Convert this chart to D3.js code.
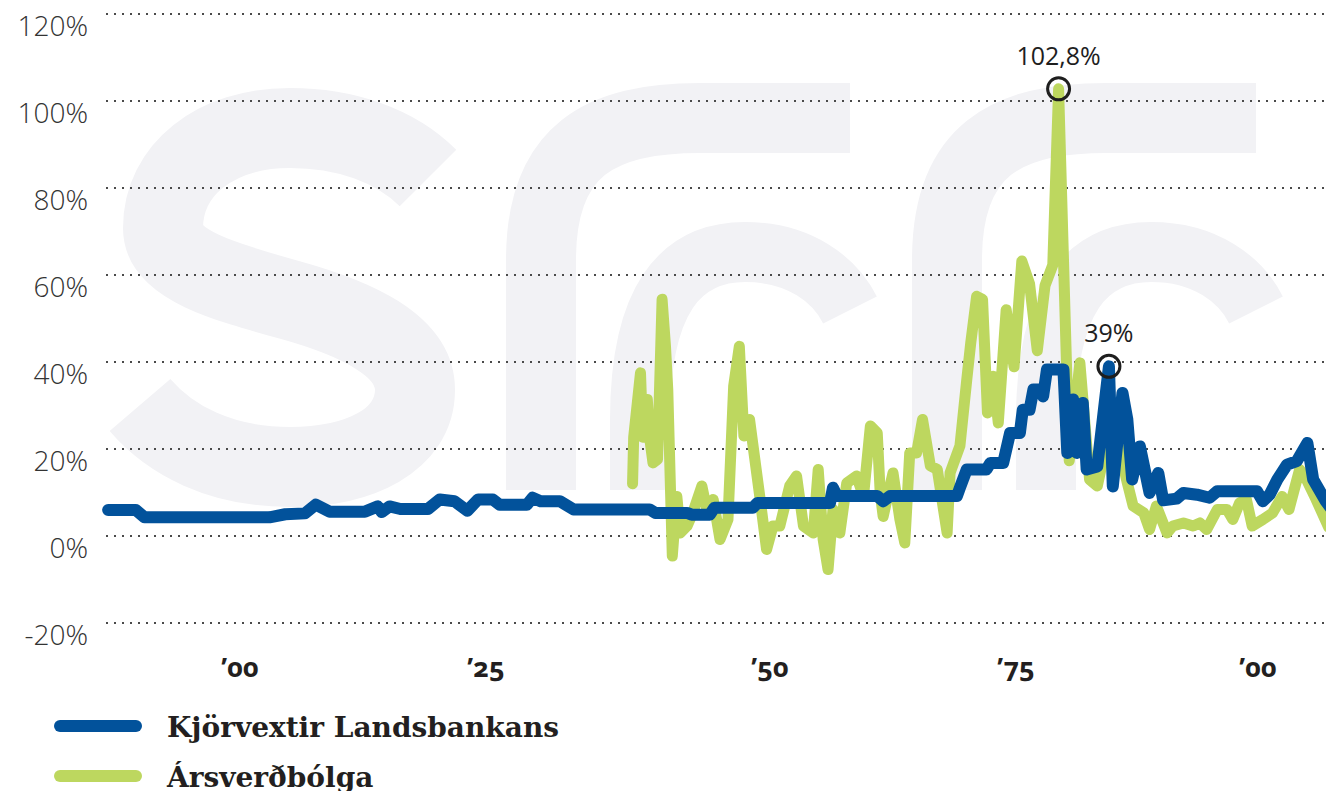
<!DOCTYPE html>
<html>
<head>
<meta charset="utf-8">
<script src="https://cdn.jsdelivr.net/npm/d3@7"></script>
<style>
  body { margin: 0; background: #fff; }
  svg { display: block; }
</style>
</head>
<body>
<div id="chart"></div>
<script>
// Kjörvextir Landsbankans (prime rate), %
const rateYears = [1886.6, 1889.4, 1890.3, 1903.0, 1904.6, 1906.6, 1907.7, 1909.1, 1912.7, 1914.0,
  1914.4, 1915.2, 1916.3, 1919.1, 1920.3, 1921.8, 1923.1, 1924.2, 1925.6, 1926.2,
  1928.6, 1929.1, 1929.8, 1931.5, 1932.7, 1939.4, 1939.9, 1942.7, 1943.1, 1944.7,
  1945.1, 1948.5, 1948.9, 1956.1, 1956.4, 1956.8, 1960.9, 1961.5, 1962.2, 1969.0,
  1969.3, 1970.0, 1972.0, 1972.4, 1973.7, 1974.4, 1975.4, 1975.7, 1976.4, 1976.8,
  1977.5, 1977.8, 1978.2, 1979.9, 1980.3, 1980.9, 1981.3, 1981.9, 1982.3, 1983.4,
  1984.6, 1985.0, 1986.0, 1986.5, 1987.0, 1987.8, 1988.8, 1989.7, 1990.2, 1991.6,
  1992.3, 1993.7, 1995.0, 1995.8, 1999.9, 2000.5, 2001.2, 2002.0, 2003.0, 2004.0,
  2005.1, 2005.7, 2007.0, 2007.5];
const rateValues = [6.0, 6.0, 4.3, 4.3, 5.0, 5.2, 7.2, 5.6, 5.6, 6.8,
  5.5, 6.8, 6.2, 6.2, 8.4, 8.0, 5.8, 8.4, 8.4, 7.2,
  7.2, 8.8, 8.0, 8.0, 6.1, 6.1, 5.3, 5.3, 4.9, 4.9,
  6.5, 6.5, 7.6, 7.6, 11.1, 9.2, 9.2, 8.0, 9.2, 9.2,
  11.1, 15.3, 15.3, 16.8, 16.8, 23.7, 23.7, 29.0, 29.0, 33.7,
  33.7, 32.1, 38.3, 38.3, 19.1, 31.4, 19.1, 30.6, 15.3, 16.0,
  39.0, 11.4, 32.9, 26.8, 13.0, 20.6, 9.9, 14.5, 8.2, 8.6,
  9.9, 9.5, 8.8, 10.3, 10.3, 8.0, 9.5, 13.0, 16.4, 17.2,
  21.4, 13.0, 8.0, 6.5];

// Ársverðbólga (annual inflation), %
const inflYears = [1937.9, 1938.0, 1938.6, 1938.8, 1939.2, 1939.4, 1939.7, 1940.1, 1940.5, 1940.8,
  1941.0, 1941.4, 1941.8, 1942.1, 1942.7, 1943.2, 1944.0, 1944.5, 1945.0, 1945.6,
  1946.3, 1946.8, 1947.3, 1947.7, 1948.2, 1949.1, 1949.7, 1950.3, 1951.0, 1952.0,
  1952.7, 1953.4, 1954.4, 1954.9, 1955.4, 1955.9, 1956.4, 1957.1, 1957.8, 1958.8,
  1959.5, 1960.2, 1960.9, 1961.2, 1961.5, 1962.5, 1963.2, 1963.7, 1964.2, 1964.9,
  1965.5, 1966.3, 1967.0, 1968.0, 1968.3, 1969.3, 1970.0, 1970.4, 1971.0, 1971.6,
  1972.1, 1972.7, 1973.2, 1974.0, 1974.8, 1975.6, 1976.4, 1977.2, 1978.0, 1978.8,
  1979.4, 1980.5, 1981.6, 1982.6, 1983.4, 1984.7, 1985.7, 1986.5, 1987.1, 1988.2,
  1988.8, 1989.5, 1990.6, 1991.2, 1992.3, 1993.3, 1994.0, 1994.7, 1995.8, 1996.8,
  1997.4, 1998.1, 1998.8, 1999.4, 2000.5, 2001.5, 2002.5, 2003.2, 2004.3, 2005.0,
  2006.0, 2007.3];
const inflValues = [12.0, 22.7, 37.5, 22.7, 31.4, 22.7, 16.8, 17.6, 54.4, 43.6,
  33.7, -4.6, 9.1, 0.7, 2.3, 5.3, 11.5, 5.3, 8.4, -0.8,
  3.8, 34.4, 43.6, 23.0, 26.8, 9.1, -3.1, 2.3, 2.3, 11.5,
  13.8, 2.3, 0.7, 15.3, -0.8, -7.7, 6.1, 0.7, 12.2, 13.8,
  9.1, 25.3, 23.7, 9.9, 4.5, 14.5, 3.8, -1.6, 19.1, 19.1,
  26.8, 16.1, 15.3, 0.7, 14.5, 20.7, 36.0, 44.4, 55.1, 54.4,
  28.3, 36.7, 26.0, 52.0, 38.9, 63.2, 58.0, 42.6, 57.6, 62.3,
  102.8, 17.3, 39.8, 13.0, 11.5, 25.0, 20.0, 12.2, 6.9, 5.3,
  1.5, 6.9, 0.7, 2.3, 3.0, 2.3, 3.0, 1.5, 6.1, 6.1,
  3.8, 7.6, 8.4, 2.3, 3.8, 5.3, 9.1, 6.1, 15.3, 13.0,
  8.4, 2.0];

const yTicks = [-20, 0, 20, 40, 60, 80, 100, 120];
const xTicks = [1900, 1925, 1950, 1975, 2000];
const xTickLabels = ["\u201900", "\u201925", "\u201950", "\u201975", "\u201900"];
const seriesNames = ["Kjörvextir Landsbankans", "Ársverðbólga"];

const width = 1326, height = 791;
const blue = "#02529b", green = "#bdd75f";

// the year labels in the source are not evenly spaced, so the scale is piecewise
const x = d3.scaleLinear()
    .domain(xTicks)
    .range([240, 486, 770, 1016, 1258]);

const y = d3.scaleLinear()
    .domain([-20, 120])
    .range([623, 14]);

const svg = d3.select("#chart").append("svg")
    .attr("width", width)
    .attr("height", height)
    .style("background", "#fff");

// faint sff watermark, drawn as thick strokes
const wm = svg.append("g").attr("fill", "none").attr("stroke", "#f2f2f5");
wm.append("path")
    .attr("stroke-width", 80)
    .attr("d", "M428,178 C395,145 345,128 290,128 C215,128 163,170 163,228 " +
               "C163,265 225,282 290,300 C355,318 415,345 415,390 " +
               "C415,440 360,467 290,467 C220,467 170,440 140,405");
[0, 406].forEach(function (dx) {
  wm.append("path")
    .attr("stroke-width", 70)
    .attr("d", `M${541 + dx},490 V260 C${541 + dx},150 ${600 + dx},118 ${700 + dx},118 H${850 + dx}`);
  wm.append("path")
    .attr("stroke-width", 60)
    .attr("d", `M${640 + dx},490 V420 C${640 + dx},300 ${680 + dx},252 ${745 + dx},252 C${800 + dx},252 ${835 + dx},280 ${850 + dx},310`);
});

// dotted grid
svg.append("g")
  .selectAll("line")
  .data(yTicks)
  .join("line")
    .attr("x1", 106)
    .attr("x2", width)
    .attr("y1", d => y(d))
    .attr("y2", d => y(d))
    .attr("stroke", "#4a4a4a")
    .attr("stroke-width", 2.2)
    .attr("stroke-dasharray", "2,6");

// y labels
svg.append("g")
  .selectAll("text")
  .data(yTicks)
  .join("text")
    .attr("x", 88)
    .attr("y", d => y(d) + 22)
    .attr("text-anchor", "end")
    .attr("font-family", "Open Sans")
    .attr("font-weight", 300)
    .attr("font-size", 28)
    .attr("fill", "#333")
    .text(d => d + "%");

// x labels
svg.append("g")
  .selectAll("text")
  .data(xTicks)
  .join("text")
    .attr("x", d => x(d))
    .attr("y", 677)
    .attr("text-anchor", "middle")
    .attr("font-family", "Noto Sans")
    .attr("font-weight", 700)
    .attr("font-size", 27)
    .style("font-variant-numeric", "oldstyle-nums")
    .attr("fill", "#231f20")
    .text((d, i) => xTickLabels[i]);

const line = d3.line()
    .x(d => x(d[0]))
    .y(d => y(d[1]));

const rate = rateYears.map((d, i) => [d, rateValues[i]]);
const infl = inflYears.map((d, i) => [d, inflValues[i]]);

svg.append("path")
    .datum(infl)
    .attr("d", line)
    .attr("fill", "none")
    .attr("stroke", green)
    .attr("stroke-width", 11)
    .attr("stroke-linejoin", "round")
    .attr("stroke-linecap", "round");

svg.append("path")
    .datum(rate)
    .attr("d", line)
    .attr("fill", "none")
    .attr("stroke", blue)
    .attr("stroke-width", 12)
    .attr("stroke-linejoin", "round")
    .attr("stroke-linecap", "round");

// peaks
const peaks = [
  infl[d3.maxIndex(infl, d => d[1])],
  rate[d3.maxIndex(rate, d => d[1])]
];
const ann = svg.append("g");
ann.selectAll("circle")
  .data(peaks)
  .join("circle")
    .attr("cx", d => x(d[0]))
    .attr("cy", d => y(d[1]))
    .attr("r", 11)
    .attr("fill", "none")
    .attr("stroke", "#1e1e1e")
    .attr("stroke-width", 3);
ann.selectAll("text")
  .data(peaks)
  .join("text")
    .attr("x", d => x(d[0]))
    .attr("y", d => y(d[1]) - 24)
    .attr("text-anchor", "middle")
    .attr("font-family", "Open Sans")
    .attr("font-size", 25)
    .attr("fill", "#1e1e1e")
    .text(d => String(d[1]).replace(".", ",") + "%");

// legend
const legend = svg.append("g")
  .selectAll("g")
  .data(seriesNames)
  .join("g")
    .attr("transform", (d, i) => `translate(0,${726 + i * 50})`);
legend.append("line")
    .attr("x1", 60)
    .attr("x2", 136)
    .attr("stroke", (d, i) => i === 0 ? blue : green)
    .attr("stroke-width", 12)
    .attr("stroke-linecap", "round");
legend.append("text")
    .attr("x", 167)
    .attr("y", 11)
    .attr("font-family", "DejaVu Serif")
    .attr("font-weight", 700)
    .attr("font-size", 28)
    .attr("fill", "#231f20")
    .text(d => d);
</script>
</body>
</html>
